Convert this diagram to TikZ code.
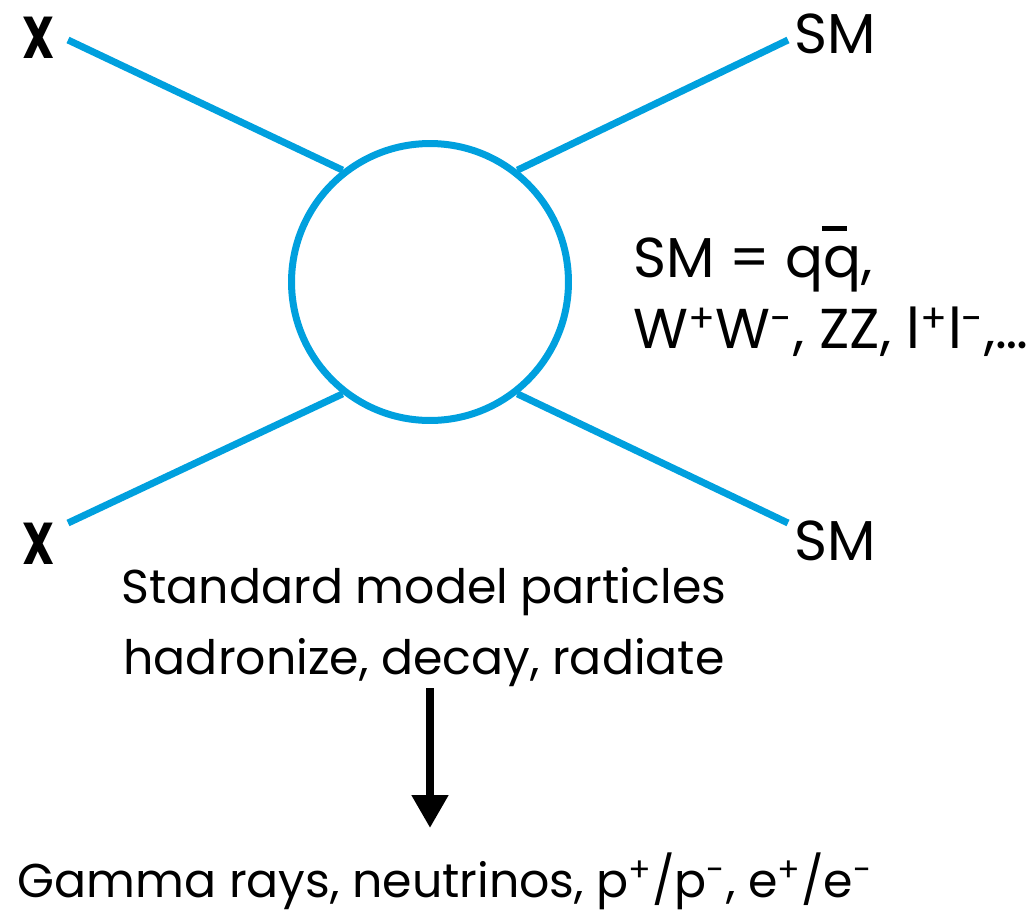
\documentclass[tikz,border=0pt]{standalone}
\usepackage{fontspec}
\setmainfont{Poppins}
\usetikzlibrary{arrows.meta,positioning}
\definecolor{legB}{RGB}{0,160,222}
\newcommand{\qbarred}{\makebox[0pt][l]{\kern-0.03em\rule[0.82em]{0.45em}{0.08em}}q}
\tikzset{
  blob/.style={circle,draw=legB,line width=0.14cm,minimum size=5.54cm,inner sep=0pt},
  leg/.style={draw=legB,line width=0.14cm},
  flow/.style={-{Triangle[width=0.7cm,length=0.66cm]},line width=0.16cm},
  lbl/.style={inner sep=0pt,font=\fontsize{32}{38}\selectfont},
  txt/.style={inner sep=0pt,font=\fontsize{27}{32}\selectfont},
  xlbl/.style={inner sep=0pt,font=\fontsize{32}{38}\selectfont\bfseries},
}
\begin{document}
\begin{tikzpicture}[x=0.02cm,y=-0.02cm]
\useasboundingbox (0,0) rectangle (1029,914);
% annihilation loop and the four legs
\node[blob] (loop) at (430,282) {};
\coordinate (xa) at (68,40);
\coordinate (xb) at (68,523);
\coordinate (sma) at (788,40);
\coordinate (smb) at (788,523);
\draw[leg] (xa) -- (loop.128);
\draw[leg] (xb) -- (loop.232);
\draw[leg] (sma) -- (loop.52);
\draw[leg] (smb) -- (loop.308);
% particle labels
\node[xlbl] (xtop) at (39,38) {\scalebox{0.8}[1.05]{X}};
\node[xlbl] (xbot) at (39,544) {\scalebox{0.8}[1.05]{X}};
\node[lbl,anchor=base] (smtop) at (835,53) {SM};
\node[lbl,anchor=base] (smbot) at (835,560) {SM};
\node[lbl,anchor=base west] (eqa) at (633,277) {SM = q\qbarred,};
\node[lbl,anchor=base west] (eqb) at (633,348)
  {W\textsuperscript{+}W\textsuperscript{-}, ZZ, l\textsuperscript{+}l\textsuperscript{-},\dots};
% what happens next
\node[txt,anchor=base] (smp) at (424,603) {Standard model particles};
\node[txt,anchor=base] (hdr) at (424,674) {hadronize, decay, radiate};
\coordinate (fa) at (430,688);
\coordinate (fb) at (430,828);
\draw[flow] (fa) -- (fb);
\node[txt,anchor=base] (gam) at (445,897)
  {Gamma rays, neutrinos, p\textsuperscript{+}/p\textsuperscript{-}, e\textsuperscript{+}/e\textsuperscript{-}};
\end{tikzpicture}
\end{document}
